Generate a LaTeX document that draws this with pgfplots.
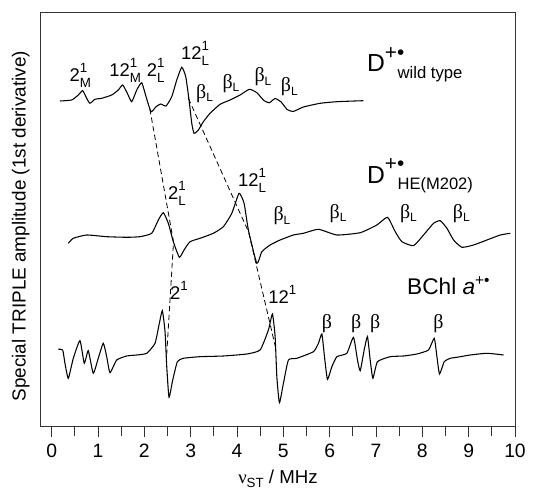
\documentclass[border=0pt]{standalone}
\usepackage{fontspec}
\setmainfont{Liberation Sans}
\newfontfamily\grk{Liberation Serif}
\usepackage{pgfplots}
\pgfplotsset{compat=1.18}

% peak label: main text, superscript, subscript stacked after it
\newcommand\lab[3]{{\fontsize{13.8}{13.8}\selectfont #1}%
  \rlap{\raisebox{6.8pt}{\fontsize{10}{10}\selectfont #2}}%
  \raisebox{-4pt}{\fontsize{10}{10}\selectfont #3}}
\newcommand\bL{{\grk\fontsize{15}{15}\selectfont β}\raisebox{-2.8pt}{\fontsize{9}{9}\selectfont L}}
\newcommand\bb{{\grk\fontsize{15}{15}\selectfont β}}

\pgfplotstableread{
x y
0.179 326
0.432 327
0.575 332
0.670 336.3
0.756 328.7
0.827 323.7
0.935 327.7
1.080 328.7
1.296 332
1.438 337
1.533 342
1.633 333.7
1.728 325.3
1.836 337
1.944 344.3
2.037 330.3
2.145 315.3
2.253 320.3
2.354 323
2.469 321
2.592 330.3
2.700 347
2.808 359.7
2.894 350.3
2.965 327
3.024 303.7
3.073 293.7
3.166 297
3.274 305.3
3.419 313.7
3.635 322.7
3.851 327
4.067 332
4.268 337.7
4.428 334.3
4.585 326.3
4.700 324.3
4.823 328.5
4.952 325
5.082 317.5
5.212 315.5
5.434 320
5.795 323.7
6.156 325.3
6.730 326.3
}\wildtype

\pgfplotstableread{
x y
0.359 183.7
0.467 188.7
0.756 192
1.188 190.3
1.620 189.7
1.907 190.3
2.160 193.7
2.302 207
2.410 214.3
2.518 203.7
2.626 185.3
2.756 169.7
2.857 177
2.987 185.3
3.203 188.7
3.490 193.7
3.706 200.3
3.888 213.7
4.045 233.7
4.153 223.7
4.246 197
4.428 163.7
4.536 175.3
4.715 182
4.931 187
5.218 192
5.434 193.7
5.758 197.7
6.156 192
6.659 194.3
7.019 202
7.248 209.7
7.415 195.3
7.559 185.3
7.810 181.3
8.026 192
8.242 203.7
8.387 206.3
8.531 198.7
8.674 187
8.855 179.7
9.106 182
9.395 187
9.683 192
9.898 193.7
}\mutant

\pgfplotstableread{
x y
0.143 77.7
0.238 77
0.287 63.7
0.359 48.7
0.467 68.7
0.611 86.3
0.704 63.7
0.790 76.3
0.898 53.7
1.006 68.7
1.114 83.7
1.188 70.3
1.259 54.3
1.404 67
1.620 71
1.836 72
2.052 73.7
2.231 83.7
2.324 103.7
2.389 116.3
2.447 95.3
2.484 60.3
2.533 29.7
2.613 47
2.713 65.3
2.842 68.7
3.203 70.3
3.706 71
4.212 73
4.499 77
4.678 97
4.765 113
4.823 90.3
4.860 50.3
4.916 24.3
5.002 43.7
5.110 67
5.292 68.7
5.650 75.3
5.758 83.7
5.832 93
5.888 70.3
5.952 47.7
6.048 60.3
6.156 70.3
6.371 73.7
6.514 89.7
6.600 67
6.659 56.3
6.745 77
6.816 90.3
6.875 67
6.933 48.7
7.032 65.3
7.307 70.3
7.594 71
7.883 73
8.134 77
8.257 88.7
8.315 70.3
8.371 53
8.473 65.3
8.603 68.7
8.747 69.7
9.035 72
9.395 73.7
9.754 72
}\bchl

\begin{document}
\begin{tikzpicture}
\begin{axis}[
  name=ax,
  scale only axis,
  width=355.5pt, height=310.5pt,
  xmin=-0.23, xmax=10, ymin=0, ymax=414,
  xtick={0,...,10}, minor x tick num=1,
  ytick=\empty,
  tick align=outside, xtick pos=bottom,
  major tick length=7.5pt, minor tick length=7pt,
  axis line style={line width=0.75pt, black!80},
  every tick/.style={black!80, line width=0.6pt},
  /pgf/number format/assume math mode=true,
  xticklabel style={font=\fontsize{14.5}{14.5}\selectfont, yshift=-2pt},
  xlabel={{\grk ν}\raisebox{-3pt}{\fontsize{10}{10}\selectfont ST} / MHz},
  xlabel style={font=\fontsize{14}{14}\selectfont, at={(axis description cs:0.5,-0.124)}, anchor=center},
  ylabel={Special TRIPLE amplitude (1st derivative)},
  ylabel style={font=\fontsize{14.2}{14.2}\selectfont, at={(axis description cs:-0.043,0.485)}, anchor=center, rotate=0},
  clip=false,
]
\addplot[black, line width=0.8pt, smooth, tension=0.3] table {\wildtype};
\addplot[black, line width=0.8pt, smooth, tension=0.3] table {\mutant};
\addplot[black, line width=0.8pt, smooth, tension=0.3] table {\bchl};

\addplot[black, line width=0.6pt, dash pattern=on 4pt off 2.5pt] coordinates {(2.12,318) (2.63,185) (2.48,70)};
\addplot[black, line width=0.6pt, dash pattern=on 4pt off 2.5pt] coordinates {(2.95,328.7) (4.25,195) (4.845,77)};

% wild type labels
\node[anchor=base west, inner sep=0] at (axis cs:0.38,345) {\lab{2}{1}{M}};
\node[anchor=base west, inner sep=0] at (axis cs:1.24,350.3) {\lab{12}{1}{M}};
\node[anchor=base west, inner sep=0] at (axis cs:2.05,350.3) {\lab{2}{1}{L}};
\node[anchor=base west, inner sep=0] at (axis cs:2.79,367) {\lab{12}{1}{L}};
\node at (axis cs:3.30,333.7) {\bL};
\node at (axis cs:3.87,343.7) {\bL};
\node at (axis cs:4.56,350.3) {\bL};
\node at (axis cs:5.13,340.3) {\bL};
\node[anchor=base west, inner sep=0] at (axis cs:6.803,355.3) {{\fontsize{18.5}{18.5}\selectfont D}\rlap{\raisebox{9.5pt}{\fontsize{15.5}{15.5}\selectfont +\textbullet}}\hspace{9.5pt}\raisebox{-5pt}{\fontsize{12.5}{12.5}\selectfont wild type}};

% HE(M202) labels
\node[anchor=base west, inner sep=0] at (axis cs:2.51,227) {\lab{2}{1}{L}};
\node[anchor=base west, inner sep=0] at (axis cs:4.02,240.3) {\lab{12}{1}{L}};
\node at (axis cs:4.97,211) {\bL};
\node at (axis cs:6.18,213.7) {\bL};
\node at (axis cs:7.70,213.7) {\bL};
\node at (axis cs:8.84,213.7) {\bL};
\node[anchor=base west, inner sep=0] at (axis cs:6.803,243.7) {{\fontsize{18.5}{18.5}\selectfont D}\rlap{\raisebox{9.5pt}{\fontsize{15.5}{15.5}\selectfont +\textbullet}}\hspace{9.5pt}\raisebox{-5pt}{\fontsize{12.4}{12.4}\selectfont HE(M202)}};

% BChl a labels
\node[anchor=base west, inner sep=0] at (axis cs:2.55,127) {\lab{2}{1}{}};
\node[anchor=base west, inner sep=0] at (axis cs:4.67,123.7) {\lab{12}{1}{}};
\node at (axis cs:5.94,103) {\bb};
\node at (axis cs:6.572,103) {\bb};
\node at (axis cs:6.983,103) {\bb};
\node at (axis cs:8.35,103) {\bb};
\node[anchor=base west, inner sep=0] at (axis cs:7.667,132) {\fontsize{17}{17}\selectfont BChl \textit{a}\raisebox{7pt}{\fontsize{11.5}{11.5}\selectfont +\textbullet}};
\end{axis}
\pgfresetboundingbox
\path[use as bounding box] ([shift={(-30.75pt,-48pt)}]ax.south west) rectangle ([shift={(13.5pt,9.75pt)}]ax.north east);
\end{tikzpicture}
\end{document}
